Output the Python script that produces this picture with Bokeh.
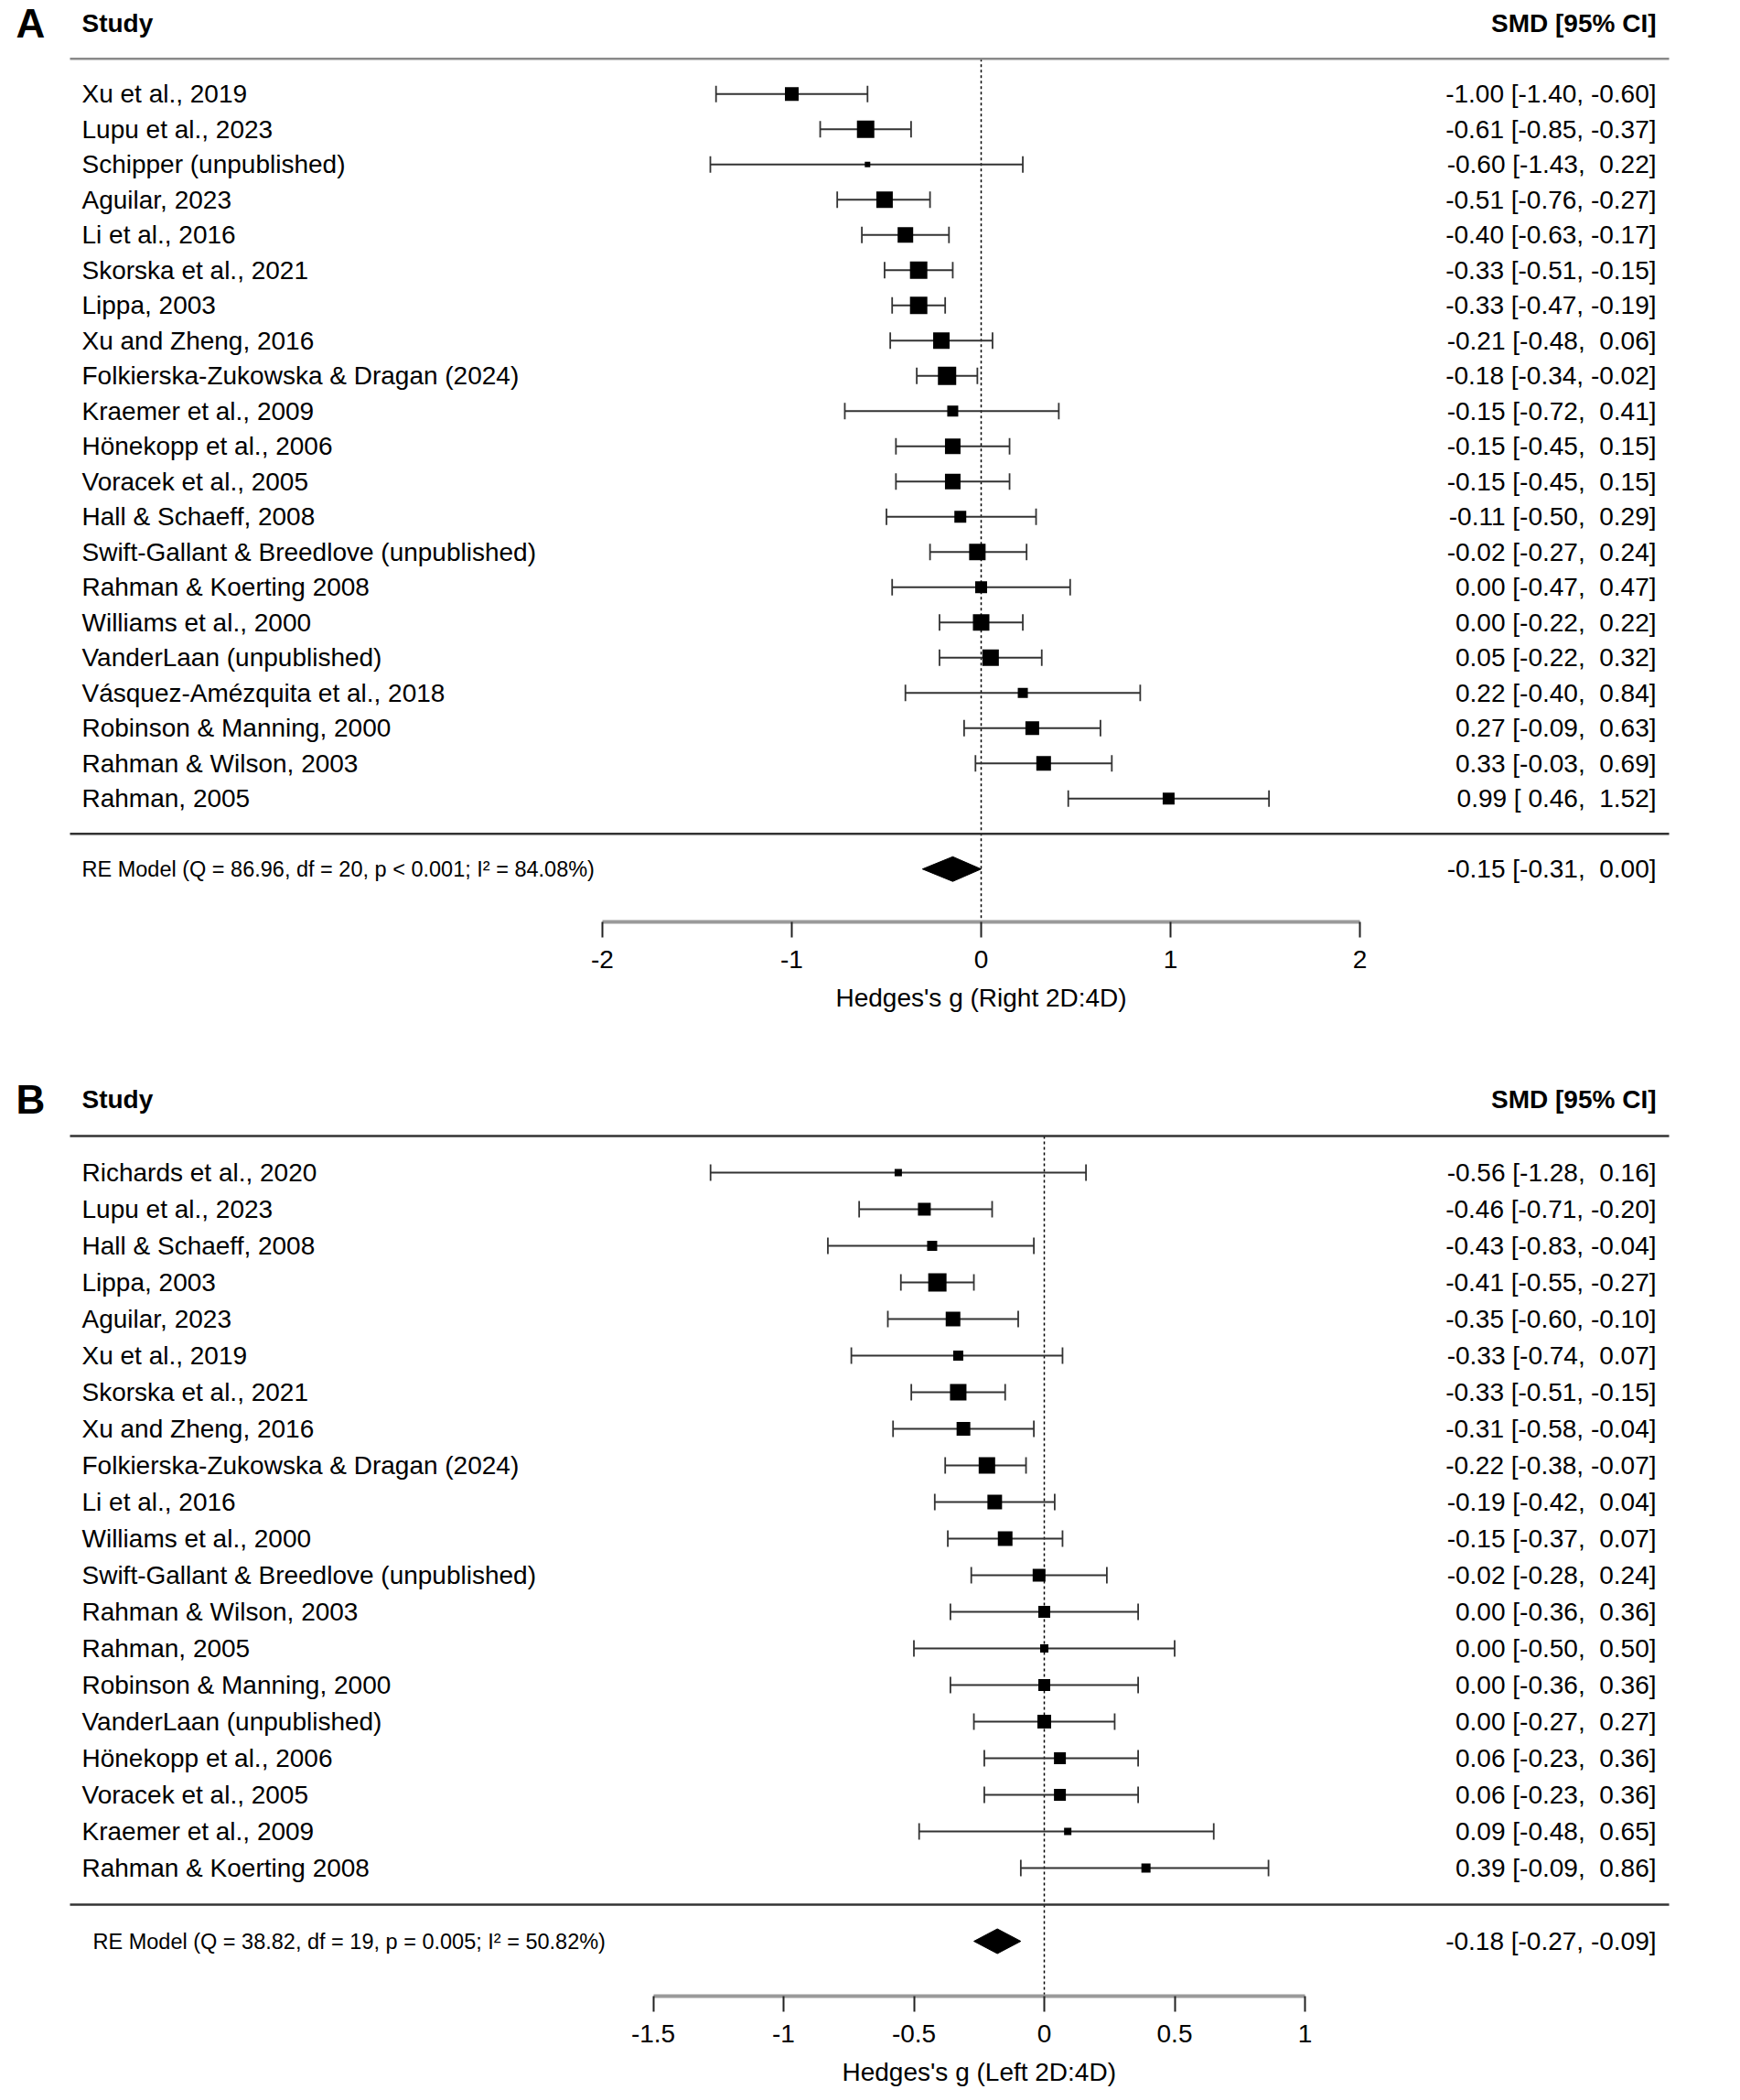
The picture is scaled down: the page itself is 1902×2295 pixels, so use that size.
import numpy as np
from bokeh.plotting import figure
from bokeh.layouts import column
from bokeh.models import Range1d, LinearAxis, FixedTicker, ColumnDataSource, Title
from bokeh.core.properties import value
from bokeh.embed import file_html
from bokeh.resources import INLINE

# ---------------- data: panel A (Right 2D:4D) ----------------
studies_a = ["Xu et al., 2019", "Lupu et al., 2023", "Schipper (unpublished)", "Aguilar, 2023",
             "Li et al., 2016", "Skorska et al., 2021", "Lippa, 2003", "Xu and Zheng, 2016",
             "Folkierska-Zukowska & Dragan (2024)", "Kraemer et al., 2009", "Hönekopp et al., 2006",
             "Voracek et al., 2005", "Hall & Schaeff, 2008", "Swift-Gallant & Breedlove (unpublished)",
             "Rahman & Koerting 2008", "Williams et al., 2000", "VanderLaan (unpublished)",
             "Vásquez-Amézquita et al., 2018", "Robinson & Manning, 2000", "Rahman & Wilson, 2003",
             "Rahman, 2005"]
smd_a = [-1.00, -0.61, -0.60, -0.51, -0.40, -0.33, -0.33, -0.21, -0.18, -0.15, -0.15,
         -0.15, -0.11, -0.02, 0.00, 0.00, 0.05, 0.22, 0.27, 0.33, 0.99]
lo_a = [-1.40, -0.85, -1.43, -0.76, -0.63, -0.51, -0.47, -0.48, -0.34, -0.72, -0.45,
        -0.45, -0.50, -0.27, -0.47, -0.22, -0.22, -0.40, -0.09, -0.03, 0.46]
hi_a = [-0.60, -0.37, 0.22, -0.27, -0.17, -0.15, -0.19, 0.06, -0.02, 0.41, 0.15,
        0.15, 0.29, 0.24, 0.47, 0.22, 0.32, 0.84, 0.63, 0.69, 1.52]
weight_a = [15, 19, 6, 18, 17, 19, 19, 18, 20, 12, 17, 17, 13, 18, 13, 18, 18, 11, 15, 16, 13]
re_a = (-0.15, -0.31, 0.00)
re_text_a = "RE Model (Q = 86.96, df = 20, p < 0.001; I\u00b2 = 84.08%)"
xlabel_a = "Hedges's g (Right 2D:4D)"
ticks_a = [-2.0, -1.0, 0.0, 1.0, 2.0]
tick_labels_a = ["-2", "-1", "0", "1", "2"]

# ---------------- data: panel B (Left 2D:4D) ----------------
studies_b = ["Richards et al., 2020", "Lupu et al., 2023", "Hall & Schaeff, 2008", "Lippa, 2003",
             "Aguilar, 2023", "Xu et al., 2019", "Skorska et al., 2021", "Xu and Zheng, 2016",
             "Folkierska-Zukowska & Dragan (2024)", "Li et al., 2016", "Williams et al., 2000",
             "Swift-Gallant & Breedlove (unpublished)", "Rahman & Wilson, 2003", "Rahman, 2005",
             "Robinson & Manning, 2000", "VanderLaan (unpublished)", "Hönekopp et al., 2006",
             "Voracek et al., 2005", "Kraemer et al., 2009", "Rahman & Koerting 2008"]
smd_b = [-0.56, -0.46, -0.43, -0.41, -0.35, -0.33, -0.33, -0.31, -0.22, -0.19, -0.15,
         -0.02, 0.00, 0.00, 0.00, 0.00, 0.06, 0.06, 0.09, 0.39]
lo_b = [-1.28, -0.71, -0.83, -0.55, -0.60, -0.74, -0.51, -0.58, -0.38, -0.42, -0.37,
        -0.28, -0.36, -0.50, -0.36, -0.27, -0.23, -0.23, -0.48, -0.09]
hi_b = [0.16, -0.20, -0.04, -0.27, -0.10, 0.07, -0.15, -0.04, -0.07, 0.04, 0.07,
        0.24, 0.36, 0.50, 0.36, 0.27, 0.36, 0.36, 0.65, 0.86]
weight_b = [8, 14, 11, 20, 16, 11, 18, 15, 18, 16, 16, 14, 13, 9, 13, 15, 13, 13, 8, 10]
re_b = (-0.18, -0.27, -0.09)
re_text_b = "RE Model (Q = 38.82, df = 19, p = 0.005; I\u00b2 = 50.82%)"
xlabel_b = "Hedges's g (Left 2D:4D)"
ticks_b = [-1.5, -1.0, -0.5, 0.0, 0.5, 1.0]
tick_labels_b = ["-1.5", "-1", "-0.5", "0", "0.5", "1"]

FONT = value("Liberation Sans")
PAGE_L, PAGE_R = 0, 1886


def fmt(v):
    s = f"{v:.2f}"
    return s if s.startswith("-") else "\u00a0" + s


def ci_label(e, l, h):
    return f"{e:.2f} [{fmt(l)}, {fmt(h)}]"


def panel(letter, studies, est, lo, hi, wts, re, re_text, xlabel, ticks, tick_labels,
          zero_px, unit_px, row_px, frame_top, frame_bottom, fig_bottom, re_px,
          header_color, title_left_px):
    n = len(studies)
    xd = lambda px: (px - zero_px) / unit_px
    frame_h = frame_bottom - frame_top
    y_end = -2.5 + frame_h / row_px
    p = figure(width=PAGE_R - PAGE_L, height=fig_bottom - frame_top,
               x_range=Range1d(xd(PAGE_L), xd(PAGE_R)), y_range=Range1d(-2.5, y_end),
               x_axis_type=None, y_axis_type=None, output_backend="svg",
               toolbar_location=None, min_border_left=0, min_border_right=0,
               min_border_top=0, min_border_bottom=fig_bottom - frame_bottom)
    p.outline_line_color = None
    p.xgrid.visible = False
    p.ygrid.visible = False

    ys = list(range(n, 0, -1))
    src = ColumnDataSource(dict(y=ys, est=est, lo=lo, hi=hi, w=wts, name=studies,
                                lab=[ci_label(e, l, h) for e, l, h in zip(est, lo, hi)]))

    # reference line at 0
    p.segment(x0=[0], y0=[n + 1], x1=[0], y1=[-2.5], line_color="black",
              line_width=1.5, line_dash="3 3")
    # header / bottom separator lines
    p.segment(x0=[xd(76)], y0=[n + 1], x1=[xd(1824)], y1=[n + 1], line_color=header_color,
              line_width=2.5)
    p.segment(x0=[xd(76)], y0=[0], x1=[xd(1824)], y1=[0], line_color="#333333",
              line_width=2.5)

    # CI whiskers and caps
    p.segment(x0="lo", y0="y", x1="hi", y1="y", source=src, line_color="#333333",
              line_width=1.8)
    p.scatter(x="lo", y="y", source=src, marker="dash", angle=np.pi / 2, size=18,
              line_color="#333333", line_width=1.8)
    p.scatter(x="hi", y="y", source=src, marker="dash", angle=np.pi / 2, size=18,
              line_color="#333333", line_width=1.8)
    # weighted squares
    p.scatter(x="est", y="y", size="w", source=src, marker="square",
              fill_color="black", line_color=None)

    # summary diamond
    e, l, h = re
    hh = 13.5 / row_px
    p.patch(x=[l, e, h, e], y=[-1, -1 + hh, -1, -1 - hh], fill_color="black",
            line_color="black", line_width=1)

    # texts
    p.text(x=xd(89), y="y", text="name", source=src, text_font=FONT,
           text_font_size="28px", text_baseline="middle", text_align="left",
           text_color="black")
    p.text(x=xd(1810), y="y", text="lab", source=src, text_font=FONT,
           text_font_size="28px", text_baseline="middle", text_align="right",
           text_color="black")
    p.text(x=[xd(17)], y=[n + 2], text=[letter], text_font=FONT, text_font_size="44px",
           text_font_style="bold", text_baseline="middle", text_align="left",
           text_color="black")
    p.text(x=[xd(89)], y=[n + 2], text=["Study"], text_font=FONT, text_font_size="28px",
           text_font_style="bold", text_baseline="middle", text_align="left",
           text_color="black")
    p.text(x=[xd(1810)], y=[n + 2], text=["SMD [95% CI]"], text_font=FONT,
           text_font_size="28px", text_font_style="bold", text_baseline="middle",
           text_align="right", text_color="black")
    p.text(x=[xd(re_px)], y=[-1], text=[re_text], text_font=FONT, text_font_size="23.5px",
           text_baseline="middle", text_align="left", text_color="black")
    p.text(x=[xd(1810)], y=[-1], text=[ci_label(e, l, h)], text_font=FONT,
           text_font_size="28px", text_baseline="middle", text_align="right",
           text_color="black")

    ax = LinearAxis(bounds=(ticks[0], ticks[-1]), ticker=FixedTicker(ticks=ticks),
                    major_label_overrides={t: s for t, s in zip(ticks, tick_labels)})
    ax.axis_line_color = "#9a9a9a"
    ax.axis_line_width = 4
    ax.major_tick_in = 0
    ax.major_tick_out = 17
    ax.major_tick_line_color = "#222222"
    ax.major_tick_line_width = 2
    ax.minor_tick_line_color = None
    ax.major_label_text_font = "Liberation Sans"
    ax.major_label_text_font_size = "28px"
    ax.major_label_text_color = "black"
    ax.major_label_standoff = 14
    p.add_layout(ax, "below")

    # axis title, centred on the axis span rather than the whole frame
    t = Title(text=xlabel, align="left", offset=title_left_px, standoff=25,
              text_font="Liberation Sans", text_font_size="28px",
              text_font_style="normal", text_color="black")
    p.add_layout(t, "below")
    return p


pA = panel("A", studies_a, smd_a, lo_a, hi_a, weight_a, re_a, re_text_a, xlabel_a,
           ticks_a, tick_labels_a, zero_px=1072, unit_px=207, row_px=38.5,
           frame_top=0, frame_bottom=1007, fig_bottom=1150, re_px=89,
           header_color="#8a8a8a", title_left_px=913)
pB = panel("B", studies_b, smd_b, lo_b, hi_b, weight_b, re_b, re_text_b, xlabel_b,
           ticks_b, tick_labels_b, zero_px=1141, unit_px=285, row_px=40.0,
           frame_top=1150, frame_bottom=2181, fig_bottom=2293, re_px=101,
           header_color="#333333", title_left_px=920)

layout = column(pA, pB, spacing=0)
open("out.html", "w").write(file_html(layout, INLINE))
